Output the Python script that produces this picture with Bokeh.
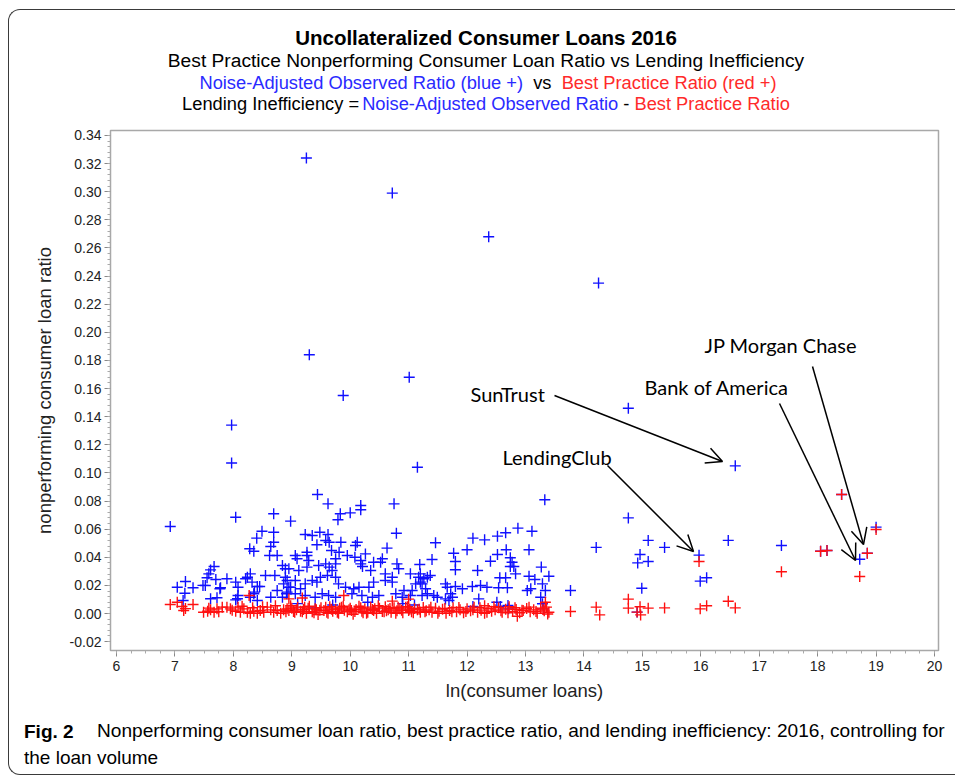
from bokeh.plotting import figure
from bokeh.layouts import column
from bokeh.models import Range1d, FixedTicker, NumeralTickFormatter, Label, Arrow, OpenHead, Div
from bokeh.embed import file_html
from bokeh.resources import INLINE

# ---------------- data ----------------
blue_obs = [
    (9.25, 0.324), (10.72, 0.299), (12.37, 0.268), (14.25, 0.235), (9.30, 0.184), (11.01, 0.168),
    (9.88, 0.155), (14.76, 0.146), (7.97, 0.134), (7.97, 0.107), (11.15, 0.104), (16.59, 0.105),
    (9.44, 0.0846), (13.33, 0.0809), (9.62, 0.078), (10.18, 0.0768), (10.18, 0.0738), (10.75, 0.078),
    (10.00, 0.0716), (9.83, 0.0709), (9.79, 0.0667), (8.69, 0.0709), (8.04, 0.0685), (6.92, 0.0619),
    (8.98, 0.0657), (10.79, 0.0571),
    (14.21, 0.047), (14.76, 0.068), (15.10, 0.052), (15.38, 0.047), (14.96, 0.042), (14.92, 0.036),
    (15.10, 0.037), (15.97, 0.0415), (15.99, 0.023), (16.10, 0.0254), (16.47, 0.052), (17.38, 0.0484),
    (18.05, 0.0443), (18.16, 0.0448), (18.72, 0.0386), (18.85, 0.0429), (18.41, 0.0846), (19.00, 0.0614),
    (13.77, 0.0164), (14.99, 0.018), (14.91, 0.001),
    (8.49, 0.0585), (8.69, 0.0578), (8.40, 0.0536), (8.69, 0.0507), (8.64, 0.0477), (8.28, 0.046),
    (8.35, 0.0443), (8.62, 0.0413), (8.75, 0.0413), (8.84, 0.0341), (8.89, 0.0318), (7.67, 0.0334),
    (7.61, 0.031), (7.58, 0.0282), (7.55, 0.0254), (7.70, 0.0242), (7.89, 0.0247), (8.04, 0.0223),
    (7.52, 0.0199), (7.78, 0.0183), (7.18, 0.0228), (7.04, 0.0187), (7.17, 0.0144), (7.31, 0.0183),
    (7.14, 0.0092), (8.24, 0.0258), (8.29, 0.0282), (8.32, 0.0223), (8.41, 0.0192), (8.45, 0.0192),
    (8.55, 0.027), (8.71, 0.027), (7.61, 0.0105), (7.72, 0.0112), (8.08, 0.0128), (8.04, 0.0097),
    (8.35, 0.014), (8.29, 0.0116), (8.41, 0.0092), (8.64, 0.0116), (8.75, 0.0164), (8.84, 0.0116),
    (8.91, 0.014), (8.92, 0.0235), (8.86, 0.0211), (8.95, 0.0187), (7.48, 0.020), (8.21, 0.0247),
    (8.36, 0.0152), (8.07, 0.0105), (8.08, 0.0187), (7.77, 0.0176),
    (9.23, 0.0562), (9.35, 0.0555), (9.48, 0.0578), (9.62, 0.0562), (9.58, 0.0519), (9.64, 0.0507),
    (9.43, 0.0489), (9.84, 0.0507), (10.12, 0.0507), (10.09, 0.0484), (10.63, 0.0465),
    (9.26, 0.0436), (9.26, 0.0413), (9.06, 0.0413), (9.09, 0.0389), (9.68, 0.0448), (9.81, 0.0436),
    (10.26, 0.0424), (9.95, 0.0413), (10.08, 0.040), (10.18, 0.0377),
    (10.55, 0.0389), (10.52, 0.0365), (10.40, 0.0365), (10.18, 0.0353), (10.21, 0.0334), (10.35, 0.0306),
    (9.75, 0.0389), (9.75, 0.0353), (9.58, 0.0353), (9.64, 0.033), (9.46, 0.0341), (9.29, 0.0377),
    (9.26, 0.033), (9.12, 0.0306), (8.95, 0.0318), (8.89, 0.0258),
    (10.80, 0.0353), (10.83, 0.0318), (11.03, 0.0282), (11.17, 0.0258), (11.20, 0.0223), (11.12, 0.0211),
    (10.92, 0.0164), (11.06, 0.0164), (10.60, 0.0282), (10.72, 0.0258), (10.72, 0.0223), (10.60, 0.0235),
    (10.40, 0.0223), (10.32, 0.0187), (10.15, 0.0187), (10.06, 0.0176), (9.92, 0.0187), (9.80, 0.0211),
    (9.75, 0.0258), (9.69, 0.0306), (9.61, 0.027), (9.49, 0.0258), (9.43, 0.0223), (9.35, 0.0235),
    (9.23, 0.0211), (9.15, 0.0176), (9.06, 0.0235), (8.98, 0.0187), (8.92, 0.0152),
    (9.06, 0.014), (9.23, 0.0128), (9.40, 0.0116), (9.52, 0.014), (9.63, 0.0128), (9.75, 0.0116),
    (10.03, 0.014), (10.20, 0.0128), (10.38, 0.0116), (10.49, 0.0128), (10.78, 0.014), (10.89, 0.0116),
    (11.03, 0.0128), (11.23, 0.0128), (9.10, 0.007), (9.70, 0.006), (10.30, 0.008), (10.90, 0.007),
    (11.10, 0.006), (12.10, 0.005), (9.40, 0.004), (11.19, 0.0348),
    (11.46, 0.0503), (11.77, 0.0429), (11.80, 0.037), (11.80, 0.0311), (11.40, 0.0384), (12.10, 0.0536),
    (12.30, 0.0524), (12.00, 0.0453), (12.52, 0.055), (12.66, 0.0574), (12.87, 0.0607), (13.11, 0.0585),
    (12.67, 0.0453), (12.52, 0.042), (12.40, 0.0372), (13.06, 0.0453), (12.74, 0.0396), (12.77, 0.0365),
    (12.80, 0.0334), (12.74, 0.0334), (12.83, 0.0282), (12.18, 0.0306), (12.56, 0.0254), (12.66, 0.0254),
    (13.27, 0.033), (13.40, 0.0265), (13.06, 0.0265), (13.16, 0.0242), (13.29, 0.0211), (13.34, 0.0164),
    (13.09, 0.0176), (13.03, 0.0164),
    (11.20, 0.0282), (11.26, 0.0247), (11.32, 0.0258), (11.37, 0.027), (11.23, 0.0211), (11.29, 0.0176),
    (11.32, 0.014), (11.43, 0.0128), (11.49, 0.0116), (11.63, 0.0211), (11.66, 0.0187), (11.80, 0.0192),
    (11.92, 0.0176), (12.09, 0.0192), (12.23, 0.0199), (12.34, 0.0187), (12.54, 0.0183), (12.69, 0.0183),
    (11.72, 0.014), (11.75, 0.0116), (11.63, 0.0104), (11.69, 0.0092), (12.20, 0.0104), (12.51, 0.008),
    (12.57, 0.005), (12.70, 0.0057), (12.71, 0.0033), (13.26, 0.0116), (13.29, 0.0069), (13.31, 0.0033),
]

red_best = [
    (6.92, 0.0064), (7.04, 0.008), (7.12, 0.005), (7.15, 0.0021), (7.31, 0.0064), (7.18, 0.0035),
    (7.49, 0.0009), (7.56, 0.0016), (7.61, 0.0026), (7.67, 0.0009), (7.72, 0.0033), (7.81, 0.0045),
    (7.89, 0.0045), (7.95, 0.0033), (8.04, 0.0016), (8.08, 0.0045), (8.12, 0.0009), (8.18, 0.0033),
    (8.24, 0.0009), (8.29, 0.0002), (8.35, 0.0016), (8.41, 0.0002), (8.46, 0.0021), (8.52, 0.0009),
    (8.58, 0.0045), (8.64, 0.0026), (8.69, 0.0009), (8.75, 0.0021), (8.81, 0.0002), (8.86, 0.0026),
    (8.92, 0.0033), (8.27, 0.0128),
    (7.58, 0.0038), (7.75, 0.0012), (7.98, 0.0024), (8.15, 0.0052), (8.33, 0.0041), (8.50, 0.0048),
    (8.72, 0.0055), (8.90, 0.0012),
    (8.95, 0.0021), (9.00, 0.0038), (9.05, 0.0009), (9.10, 0.0045), (9.15, 0.0016), (9.20, 0.0029),
    (9.25, 0.0002), (9.30, 0.0052), (9.35, 0.0012), (9.40, 0.0033), (9.45, -0.0008), (9.50, 0.0041),
    (9.55, 0.0021), (9.60, 0.0009), (9.65, 0.0048), (9.70, 0.0016), (9.75, 0.0031), (9.80, 0.0002),
    (9.85, 0.0045), (9.90, 0.0024), (9.95, 0.0012), (10.00, 0.0038), (10.05, -0.0005), (10.10, 0.0029),
    (10.15, 0.0052), (10.20, 0.0016), (10.25, 0.0033), (10.30, 0.0009), (10.35, 0.0045), (10.40, 0.0021),
    (10.45, 0.0002), (10.50, 0.0038), (10.55, 0.0014), (10.60, 0.0048), (10.65, 0.0026), (10.70, 0.0009),
    (10.75, 0.0041), (10.80, 0.0019), (10.85, 0.0033), (10.90, 0.0005), (10.95, 0.0045), (11.00, 0.0021),
    (11.05, 0.0012), (11.10, 0.0036), (11.15, 0.0026), (11.20, 0.0009), (11.25, 0.0043), (11.30, 0.0019),
    (8.98, 0.0055), (9.08, 0.0026), (9.18, 0.0012), (9.28, 0.0038), (9.38, 0.0005), (9.48, 0.0024),
    (9.58, 0.0045), (9.68, 0.0031), (9.78, 0.0009), (9.88, 0.0052), (9.98, 0.0026), (10.08, 0.0014),
    (10.18, 0.0041), (10.28, 0.0002), (10.38, 0.0029), (10.48, 0.0055), (10.58, 0.0012), (10.68, 0.0036),
    (10.78, 0.0002), (10.88, 0.0024), (10.98, 0.0048), (11.08, 0.0005), (11.18, 0.0031), (11.28, 0.0012),
    (9.03, 0.0014), (9.22, 0.0045), (9.42, 0.0026), (9.62, 0.0002), (9.82, 0.0038), (10.02, 0.0021),
    (10.22, 0.0005), (10.42, 0.0033), (10.62, 0.0019), (10.82, 0.0045), (11.02, 0.0031),
    (8.95, 0.0104), (9.18, 0.011), (9.89, 0.0128), (10.72, 0.0088), (11.00, 0.0102),
    (11.35, 0.0026), (11.40, 0.0009), (11.46, 0.0038), (11.52, 0.0016), (11.58, 0.0031), (11.64, 0.0002),
    (11.70, 0.0021), (11.76, 0.0041), (11.82, 0.0012), (11.88, 0.0026), (11.94, 0.0005), (12.00, 0.0033),
    (12.06, 0.0019), (12.12, 0.0045), (12.18, 0.0009), (12.24, 0.0024), (12.30, 0.0002), (12.36, 0.0036),
    (12.42, 0.0016), (12.48, 0.0026), (12.54, 0.0041), (12.60, 0.0009), (12.66, 0.0031), (12.72, 0.0048),
    (12.78, 0.0014), (12.84, 0.0029), (12.90, 0.0005), (12.96, 0.0021), (13.02, 0.0036), (13.08, 0.0012),
    (13.14, 0.0026), (13.20, 0.0002), (13.26, 0.0038), (13.32, 0.0019), (13.36, 0.0045), (13.40, 0.0009),
    (11.38, 0.0045), (11.50, 0.0002), (11.62, 0.0036), (11.74, 0.0012), (11.86, 0.0043), (11.98, 0.0014),
    (12.10, 0.0026), (12.22, 0.0041), (12.34, 0.0009), (12.46, 0.0048), (12.58, 0.0019), (12.70, 0.0005),
    (12.82, 0.0041), (12.94, 0.0024), (13.06, 0.0045), (13.18, 0.0014), (13.30, 0.0031), (13.38, -0.0004),
    (13.34, 0.008), (12.86, -0.002), (12.30, 0.0055),
    (13.77, 0.0014), (14.21, 0.0045), (14.27, -0.001), (14.76, 0.0102), (14.76, 0.0038), (14.91, 0.001),
    (14.96, 0.0048), (14.97, -0.001), (15.10, 0.0038), (15.38, 0.004), (15.97, 0.037), (15.99, 0.0033),
    (16.10, 0.0055), (16.47, 0.0087), (16.59, 0.004), (17.38, 0.0297), (18.05, 0.0443), (18.16, 0.0448),
    (18.72, 0.0263), (18.85, 0.0429), (18.41, 0.0846), (19.00, 0.0597),
]

blue_x = [p[0] for p in blue_obs]
blue_y = [p[1] for p in blue_obs]
red_x = [p[0] for p in red_best]
red_y = [p[1] for p in red_best]

x_ticks = list(range(6, 21))
y_ticks = [-0.02, 0.0, 0.02, 0.04, 0.06, 0.08, 0.10, 0.12, 0.14, 0.16, 0.18, 0.20,
           0.22, 0.24, 0.26, 0.28, 0.30, 0.32, 0.34]

annotations = [  # (label, text px left, text px centre y, arrow start px, arrow end px)
    ("SunTrust", 470, 393, (554, 395), (722, 461)),
    ("LendingClub", 502, 456, (607, 465), (693, 551)),
    ("Bank of America", 644, 386, (779, 403), (855, 560)),
    ("JP Morgan Chase", 704, 344, (812, 366), (863, 544)),
]

# ---------------- page geometry ----------------
OX, OY = 9, 10            # page position of the content (inside the rounded box)
W = 946
TOP_H, MAIN_H, BOT_H = 112, 588, 64
MAIN_TOP = OY + TOP_H     # 122
BOT_TOP = MAIN_TOP + MAIN_H  # 710

PX6, PXU = 116.0, 58.43      # page px of x=6, px per unit
PY0, PYU = 613.0, 1406.0     # page px of y=0, px per unit


def dx(px):
    return 6 + (px - PX6) / PXU


def dy(py):
    return (PY0 - py) / PYU


FONT = "Liberation Sans"
BLUE_T = "#2a2aff"
RED_T = "#ff2a2a"


def span(html, px, py, top_px, size, center=True, weight="normal"):
    tr = "translate(-50%,-50%)" if center else "translate(0,-50%)"
    return (f'<div style="position:absolute;left:{px - OX}px;top:{py - top_px}px;transform:{tr};'
            f'white-space:nowrap;line-height:1;font-size:{size};font-weight:{weight};color:black;">'
            f'{html}</div>')


def c(text, color):
    return f'<span style="color:{color}">{text}</span>'


top_html = "".join([
    span("Uncollateralized Consumer Loans 2016", 486, 38, OY, "20.5px", weight="bold"),
    span("Best Practice Nonperforming Consumer Loan Ratio vs Lending Inefficiency", 486, 61, OY, "19.2px"),
    span(c("Noise-Adjusted Observed Ratio (blue +)", BLUE_T) + "&nbsp; vs &nbsp;"
         + c("Best Practice Ratio (red +)", RED_T), 488, 83, OY, "18.3px"),
    span("Lending Inefficiency =" + '<span style="margin-left:3px"></span>'
         + c("Noise-Adjusted Observed Ratio", BLUE_T) + " - "
         + c("Best Practice Ratio", RED_T), 486, 104, OY, "18.3px"),
])
bot_html = "".join([
    span("<b>Fig. 2</b>", 24, 731, BOT_TOP, "19px", center=False),
    span("Nonperforming consumer loan ratio, best practice ratio, and lending inefficiency: 2016, controlling for",
         97, 731, BOT_TOP, "19.1px", center=False),
    span("the loan volume", 24, 757, BOT_TOP, "19px", center=False),
])


def wrap(inner, h):
    return (f'<div style="position:relative;width:{W}px;height:{h}px;overflow:visible;'
            f"font-family:'{FONT}',Arial,sans-serif;\">{inner}</div>")


top = Div(text=wrap(top_html, TOP_H), width=W, height=TOP_H, margin=0,
          styles={"overflow": "visible"})
bot = Div(text=wrap(bot_html, BOT_H), width=W, height=BOT_H, margin=0,
          styles={"overflow": "visible"})

# ---------------- main scatter ----------------
p = figure(width=W, height=MAIN_H, output_backend="svg", toolbar_location=None,
           x_range=Range1d(dx(110), dx(938)), y_range=Range1d(dy(650), dy(130)),
           min_border_left=110 - OX, min_border_right=OX + W - 938,
           min_border_top=130 - MAIN_TOP, min_border_bottom=BOT_TOP - 650,
           background_fill_color="white", border_fill_color="white", margin=0)

p.xgrid.visible = False
p.ygrid.visible = False
p.outline_line_color = "#a8a8a8"
p.outline_line_width = 1.5

minor_x = [6 + i * 0.25 for i in range(57)]
minor_y = [-0.02 + i * 0.004 for i in range(91)]
p.xaxis.ticker = FixedTicker(ticks=x_ticks, minor_ticks=minor_x)
p.yaxis.ticker = FixedTicker(ticks=y_ticks, minor_ticks=minor_y)
p.yaxis.formatter = NumeralTickFormatter(format="0.00")

for ax in (p.xaxis, p.yaxis):
    ax.axis_line_color = "#a8a8a8"
    ax.major_tick_line_color = "#888888"
    ax.minor_tick_line_color = "#aaaaaa"
    ax.major_tick_in = 0
    ax.major_tick_out = 6
    ax.minor_tick_in = 0
    ax.minor_tick_out = 3
    ax.major_label_text_font = FONT
    ax.major_label_text_font_size = "14px"
    ax.major_label_text_color = "#222222"
    ax.axis_label_text_font = FONT
    ax.axis_label_text_font_size = "18.5px"
    ax.axis_label_text_font_style = "normal"
    ax.axis_label_text_color = "#222222"

p.xaxis.axis_label = "ln(consumer loans)"
p.yaxis.axis_label = "nonperforming consumer loan ratio"
p.xaxis.major_label_standoff = 4
p.xaxis.axis_label_standoff = 6
p.yaxis.major_label_standoff = 3
p.yaxis.axis_label_standoff = 12

p.scatter(blue_x, blue_y, marker="cross", size=11, line_width=1.4, color="#1010ff")
p.scatter(red_x, red_y, marker="cross", size=11, line_width=1.4, color="#ff1010")

for name, tx, ty, (sx0, sy0), (sx1, sy1) in annotations:
    p.add_layout(Label(x=dx(tx), y=dy(ty), text=name, text_font="Lato", text_font_size="20px",
                       text_color="black", text_baseline="middle", text_align="left"))
    p.add_layout(Arrow(x_start=dx(sx0), y_start=dy(sy0), x_end=dx(sx1), y_end=dy(sy1),
                       line_width=1.5, line_color="black",
                       end=OpenHead(size=16, line_width=1.5, line_color="black")))

layout = column(top, p, bot, spacing=0)
layout.styles = {"margin-left": "8px", "margin-top": "9px",
                 "border-left": "1px solid #3a3a3a", "border-top": "1px solid #3a3a3a",
                 "border-bottom": "1px solid #3a3a3a", "border-top-left-radius": "12px",
                 "border-bottom-left-radius": "12px"}

open("out.html", "w").write(file_html(layout, INLINE))
